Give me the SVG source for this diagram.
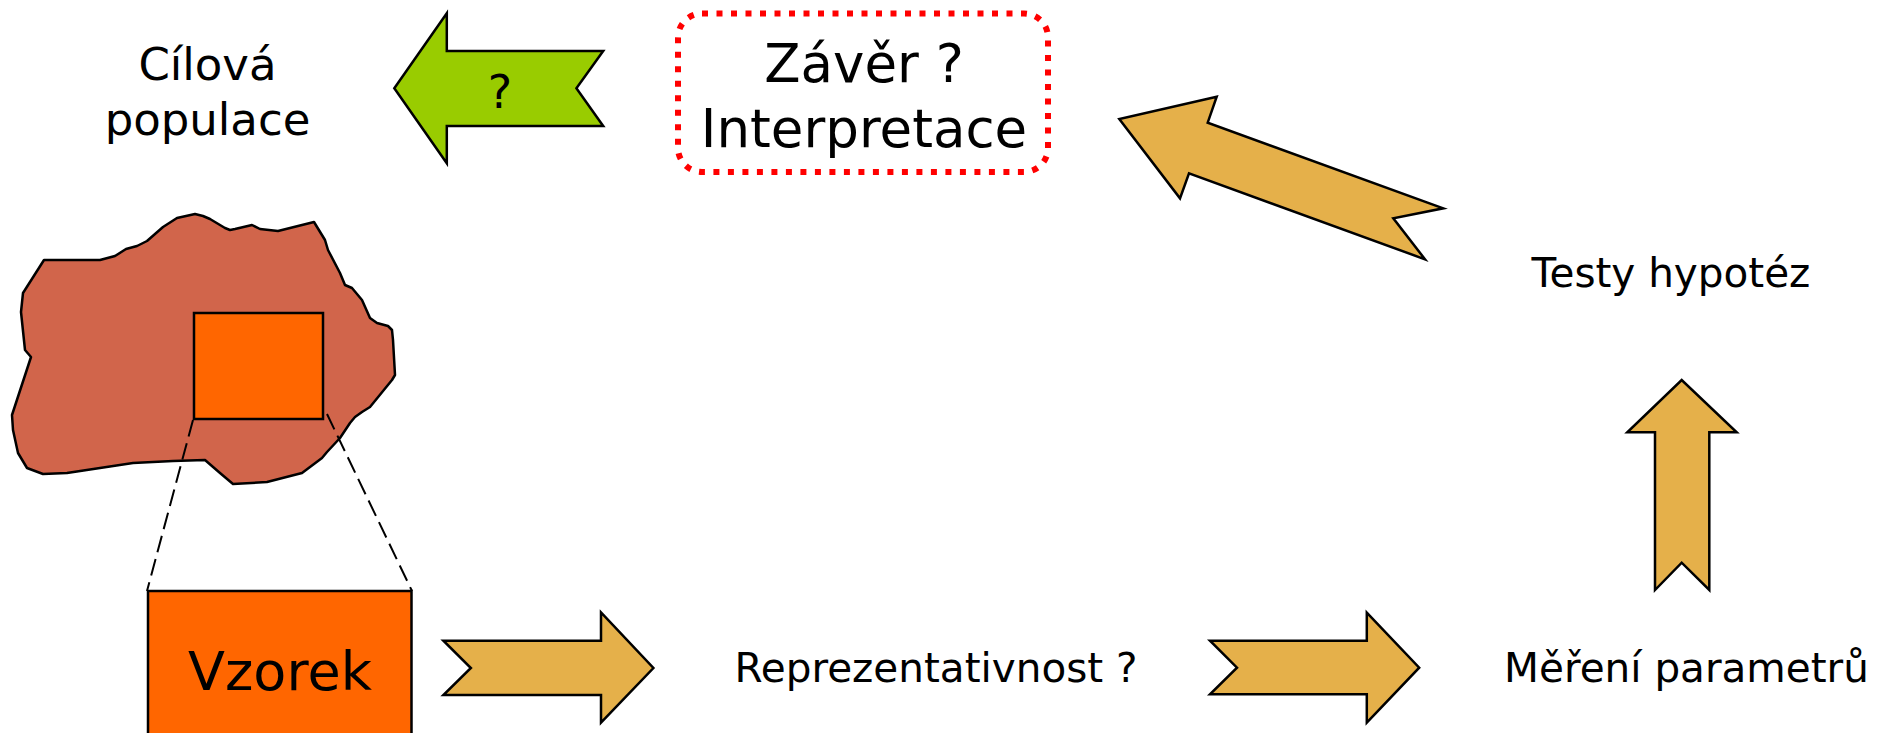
<svg xmlns="http://www.w3.org/2000/svg" width="1892" height="733" viewBox="0 0 1892 733">
<style>
text{font-family:"DejaVu Sans","Liberation Sans",sans-serif;fill:#000;text-anchor:middle}
.gold{fill:#E5B04A;stroke:#000;stroke-width:2.5;stroke-linejoin:miter}
.orange{fill:#FF6600;stroke:#000;stroke-width:2.5}
.dash{fill:none;stroke:#000;stroke-width:2;stroke-dasharray:17 7}
.lbl{font-size:40.5px}
</style>
<rect x="0" y="0" width="1892" height="733" fill="#fff"/>
<g id="population">
<path d="M44,260 L100,260 L115,256 L126,249 L137,246 L147,241 L163,227 L177,218 L195,214 L203,216 L210,219 L225,228 L230,230 L235,229 L252,225 L260,229 L278,231 L314,222 L325,240 L328,250 L340,273 L345,285 L352,288 L362,300 L370,318 L377,323 L388,326 L392,330 L393,340 L395,375 L392,380 L370,407 L362,412 L355,417 L350,423 L340,438 L327,452 L322,458 L302,473 L267,482 L233,484 L220,473 L205,460 L173,461 L133,463 L67,473 L43,474 L27,468 L18,453 L13,430 L12,415 L31,357 L25,350 L21,312 L23,293 Z" fill="#D1654B" stroke="#000" stroke-width="2.5" stroke-linejoin="round"/>
<rect x="194" y="313" width="129" height="106" class="orange"/>
</g>
<g id="label-cilova">
<text x="207.5" y="80" font-size="45">Cílová</text>
<text x="207.5" y="135" font-size="45">populace</text>
</g>
<g id="conclusion">
<rect x="678" y="13.5" width="370" height="158.5" rx="24" ry="24" fill="none" stroke="#FF0000" stroke-width="6" stroke-dasharray="6 8.5"/>
<text x="864" y="82" font-size="53">Závěr ?</text>
<text x="864" y="147" font-size="53">Interpretace</text>
</g>
<g id="sample">
<rect x="148" y="591" width="263.5" height="150" class="orange"/>
<text x="280" y="689.5" font-size="54">Vzorek</text>
</g>
<g id="label-reprezentativnost"><text x="936" y="682" class="lbl">Reprezentativnost ?</text></g>
<g id="label-mereni"><text x="1686.5" y="682" class="lbl">Měření parametrů</text></g>
<g id="label-testy"><text x="1671" y="287" class="lbl">Testy hypotéz</text></g>
<g id="connectors">
<line id="zoom-left" x1="193" y1="420" x2="147" y2="591" class="dash"/>
<line id="zoom-right" x1="327" y1="414" x2="412" y2="591" class="dash"/>
<path id="arrow-sample-repr" class="gold" d="M443.4,640.7 L601,640.7 L601,612.5 L653.4,668 L601,722.7 L601,695 L443.4,695 L470.9,668 Z"/>
<path id="arrow-repr-mereni" class="gold" d="M1210,640.7 L1366.8,640.7 L1366.8,612.7 L1419.2,667.7 L1366.8,722.7 L1366.8,694.3 L1210,694.3 L1237,667.7 Z"/>
<path id="arrow-mereni-testy" class="gold" d="M1655,590 L1655,432.3 L1627.3,432.3 L1681.7,380 L1736.7,432.3 L1709.3,432.3 L1709.3,590 L1681.7,562.7 Z"/>
<path id="arrow-testy-zaver" class="gold" d="M1443.3,208.3 L1207.7,122.7 L1216.7,96.7 L1119.3,119 L1180,198.3 L1189,173.3 L1425,259.3 L1393.3,218.3 Z"/>
<g id="arrow-zaver-populace">
<path d="M603.2,51 L446.8,51 L446.8,13.3 L394.3,88.3 L446.8,163.3 L446.8,126 L603.2,126 L576.4,88.3 Z" fill="#99CC00" stroke="#000" stroke-width="2.5"/>
<text x="500" y="108" font-size="46">?</text>
</g>
</g>
</svg>
